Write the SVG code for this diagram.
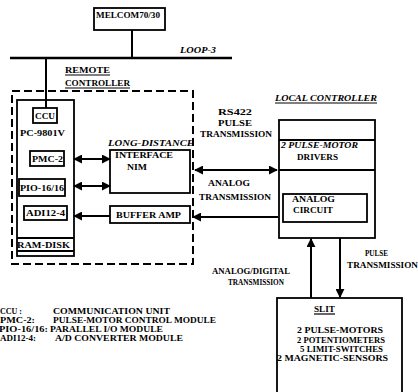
<svg xmlns="http://www.w3.org/2000/svg" width="418" height="392" viewBox="0 0 418 392">
<style>
text{font-family:"Liberation Serif","Times New Roman",serif;font-weight:bold;font-size:9px;fill:#000}
.it{font-style:italic}
.sm{font-size:8px}
.lg{font-size:7.5px}
.box{fill:none;stroke:#000;stroke-width:1.8}
.ln{fill:none;stroke:#000;stroke-width:2}
.ul{stroke:#000;stroke-width:1.2}
</style>
<defs>
<marker id="ah" viewBox="0 0 10 10" refX="9" refY="5" markerWidth="9" markerHeight="9" markerUnits="userSpaceOnUse" orient="auto-start-reverse">
<path d="M0,0 L10,5 L0,10 Z" fill="#000"/>
</marker>
</defs>
<rect width="418" height="392" fill="#fff"/>
<g id="connectors">
<line class="ln" x1="132" y1="30" x2="132" y2="58"/>
<line x1="10" y1="58" x2="232" y2="58" stroke="#000" stroke-width="2.6"/>
<line class="ln" x1="46" y1="58" x2="46" y2="108"/>
<line class="ln" x1="74" y1="159" x2="110" y2="159" marker-start="url(#ah)" marker-end="url(#ah)"/>
<line class="ln" x1="74" y1="186" x2="110" y2="186" marker-start="url(#ah)" marker-end="url(#ah)"/>
<line class="ln" x1="110" y1="216" x2="74" y2="216" marker-end="url(#ah)"/>
<line class="ln" x1="195" y1="170" x2="277" y2="170" marker-start="url(#ah)" marker-end="url(#ah)"/>
<line class="ln" x1="278" y1="217" x2="193" y2="217" marker-end="url(#ah)"/>
<line class="ln" x1="311" y1="298" x2="311" y2="239" marker-end="url(#ah)"/>
<line class="ln" x1="340" y1="238" x2="340" y2="297" marker-end="url(#ah)"/>
</g>
<g id="melcom">
<rect class="box" x="94" y="8" width="71" height="22"/>
<text x="96" y="18" class="sm" textLength="64" lengthAdjust="spacingAndGlyphs">MELCOM70/30</text>
</g>
<g id="loop-label">
<text x="180" y="53" class="it" textLength="36" lengthAdjust="spacingAndGlyphs">LOOP-3</text>
</g>
<g id="remote-controller">
<rect x="12" y="91" width="181" height="173" fill="none" stroke="#000" stroke-width="2" stroke-dasharray="8,4"/>
<text x="65" y="73" textLength="45" lengthAdjust="spacingAndGlyphs">REMOTE</text>
<line class="ul" x1="65" y1="75" x2="110" y2="75"/>
<text x="65" y="86" textLength="65" lengthAdjust="spacingAndGlyphs">CONTROLLER</text>
<line class="ul" x1="65" y1="88" x2="130" y2="88"/>
</g>
<g id="pc9801v">
<rect class="box" x="17" y="100" width="57" height="156"/>
<line class="ln" x1="17" y1="238" x2="74" y2="238"/>
<line class="ln" x1="17" y1="251" x2="74" y2="251"/>
<text x="20" y="136" textLength="45" lengthAdjust="spacingAndGlyphs">PC-9801V</text>
<text x="17" y="248" textLength="53" lengthAdjust="spacingAndGlyphs">RAM-DISK</text>
</g>
<g id="ccu">
<rect class="box" x="33" y="108" width="24" height="15"/>
<text x="35" y="119" class="sm" textLength="20" lengthAdjust="spacingAndGlyphs">CCU</text>
</g>
<g id="pmc2">
<rect class="box" x="30" y="151" width="34" height="15"/>
<text x="32" y="162" class="sm" textLength="31" lengthAdjust="spacingAndGlyphs">PMC-2</text>
</g>
<g id="pio">
<rect class="box" x="19" y="179" width="46" height="17"/>
<text x="20" y="191" class="sm" textLength="44" lengthAdjust="spacingAndGlyphs">PIO-16/16</text>
</g>
<g id="adi">
<rect class="box" x="24" y="206" width="43" height="14"/>
<text x="26" y="216" class="sm" textLength="39" lengthAdjust="spacingAndGlyphs">ADI12-4</text>
</g>
<g id="interface">
<text x="108" y="146" class="it" textLength="86" lengthAdjust="spacingAndGlyphs">LONG-DISTANCE</text>
<rect class="box" x="110" y="150" width="80" height="43"/>
<text x="115" y="158" textLength="58" lengthAdjust="spacingAndGlyphs">INTERFACE</text>
<text x="127" y="170" textLength="20" lengthAdjust="spacingAndGlyphs">NIM</text>
</g>
<g id="buffer-amp">
<rect class="box" x="110" y="206" width="80" height="17"/>
<text x="116" y="218" textLength="65" lengthAdjust="spacingAndGlyphs">BUFFER AMP</text>
</g>
<g id="rs422-label">
<text x="218" y="115" textLength="34" lengthAdjust="spacingAndGlyphs">RS422</text>
<text x="218" y="126" textLength="34" lengthAdjust="spacingAndGlyphs">PULSE</text>
<text x="200" y="137" textLength="72" lengthAdjust="spacingAndGlyphs">TRANSMISSION</text>
</g>
<g id="analog-label">
<text x="208" y="186" textLength="42" lengthAdjust="spacingAndGlyphs">ANALOG</text>
<text x="199" y="200" textLength="72" lengthAdjust="spacingAndGlyphs">TRANSMISSION</text>
</g>
<g id="local-controller">
<text x="275" y="101" class="it" textLength="102" lengthAdjust="spacingAndGlyphs">LOCAL CONTROLLER</text>
<line class="ul" x1="275" y1="103" x2="377" y2="103"/>
<rect class="box" x="279" y="120" width="96" height="118"/>
<line class="ln" x1="279" y1="140" x2="375" y2="140"/>
<line class="ln" x1="279" y1="170" x2="375" y2="170"/>
<text x="281" y="148" class="it" textLength="77" lengthAdjust="spacingAndGlyphs">2 PULSE-MOTOR</text>
<text x="297" y="160" textLength="41" lengthAdjust="spacingAndGlyphs">DRIVERS</text>
</g>
<g id="analog-circuit">
<rect class="box" x="283" y="194" width="84" height="28"/>
<text x="292" y="202" textLength="43" lengthAdjust="spacingAndGlyphs">ANALOG</text>
<text x="293" y="213" textLength="40" lengthAdjust="spacingAndGlyphs">CIRCUIT</text>
</g>
<g id="analog-digital-label">
<text x="212" y="274" textLength="78" lengthAdjust="spacingAndGlyphs">ANALOG/DIGITAL</text>
<text x="228" y="285" textLength="56" lengthAdjust="spacingAndGlyphs">TRANSMISSION</text>
</g>
<g id="pulse-label">
<text x="365" y="256" textLength="23" lengthAdjust="spacingAndGlyphs">PULSE</text>
<text x="347" y="268" textLength="71" lengthAdjust="spacingAndGlyphs">TRANSMISSION</text>
</g>
<g id="slit">
<rect class="box" x="277" y="298" width="125" height="100"/>
<text x="314" y="312" textLength="21" lengthAdjust="spacingAndGlyphs">SLIT</text>
<line class="ul" x1="314" y1="314" x2="335" y2="314"/>
<text x="297" y="333" textLength="86" lengthAdjust="spacingAndGlyphs">2 PULSE-MOTORS</text>
<text x="297" y="343" textLength="88" lengthAdjust="spacingAndGlyphs">2 POTENTIOMETERS</text>
<text x="300" y="352" textLength="83" lengthAdjust="spacingAndGlyphs">5 LIMIT-SWITCHES</text>
<text x="277" y="361" textLength="111" lengthAdjust="spacingAndGlyphs">2 MAGNETIC-SENSORS</text>
</g>
<g id="legend">
<text class="lg" x="0" y="314" textLength="22" lengthAdjust="spacingAndGlyphs">CCU :</text>
<text class="lg" x="53" y="314" textLength="117" lengthAdjust="spacingAndGlyphs">COMMUNICATION UNIT</text>
<text class="lg" x="0" y="323" textLength="35" lengthAdjust="spacingAndGlyphs">PMC-2:</text>
<text class="lg" x="53" y="323" textLength="163" lengthAdjust="spacingAndGlyphs">PULSE-MOTOR CONTROL MODULE</text>
<text class="lg" x="-1" y="332" textLength="49" lengthAdjust="spacingAndGlyphs">PIO-16/16:</text>
<text class="lg" x="50" y="332" textLength="113" lengthAdjust="spacingAndGlyphs">PARALLEL I/O MODULE</text>
<text class="lg" x="0" y="341" textLength="36" lengthAdjust="spacingAndGlyphs">ADI12-4:</text>
<text class="lg" x="55" y="341" textLength="128" lengthAdjust="spacingAndGlyphs">A/D CONVERTER MODULE</text>
</g>
</svg>
